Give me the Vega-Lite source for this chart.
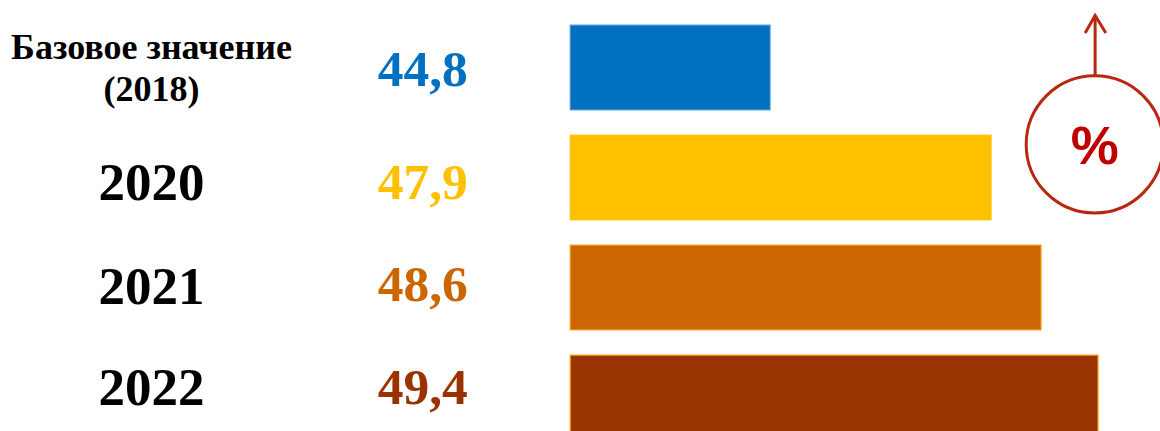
{
  "$schema": "https://vega.github.io/schema/vega-lite/v6.json",
  "width": 1160,
  "height": 431,
  "padding": 0,
  "autosize": "none",
  "background": "white",
  "config": {"view": {"stroke": null}},
  "datasets": {
    "rows": [
      {"period": "Базовое значение (2018)", "value": 44.8, "valueLabel": "44,8"},
      {"period": "2020", "value": 47.9, "valueLabel": "47,9"},
      {"period": "2021", "value": 48.6, "valueLabel": "48,6"},
      {"period": "2022", "value": 49.4, "valueLabel": "49,4"}
    ],
    "arrow": [
      {"part": "shaft", "step": 1, "u": 49.36, "v": 17.4},
      {"part": "shaft", "step": 2, "u": 49.36, "v": 3.6},
      {"part": "head", "step": 1, "u": 49.22, "v": 7.66},
      {"part": "head", "step": 2, "u": 49.36, "v": 3.6},
      {"part": "head", "step": 3, "u": 49.51, "v": 7.66}
    ],
    "badge": [{"u": 49.355, "v": 33.5, "symbol": "%", "v2": 34.3}]
  },
  "layer": [
    {
      "data": {"name": "rows"},
      "mark": {"type": "bar", "strokeWidth": 1.5, "strokeOpacity": 0.8},
      "encoding": {
        "y": {
          "field": "period", "type": "nominal",
          "scale": {"domain": ["Базовое значение (2018)", "2020", "2021", "2022"], "range": [12.5, 452.5], "paddingInner": 0.23, "paddingOuter": 0.115},
          "axis": {
            "title": null, "orient": "left", "offset": -151, "domain": false, "ticks": false, "grid": false, "labelPadding": 0,
            "labelAlign": "center", "labelBaseline": "middle", "labelColor": "#000000", "labelFont": "Liberation Serif", "labelFontWeight": "bold",
            "labelLimit": 0, "labelOverlap": false, "labelLineHeight": 42,
            "labelExpr": "datum.value == 'Базовое значение (2018)' ? ['Базовое значение', '(2018)'] : datum.value",
            "labelFontSize": {"expr": "datum.value == 'Базовое значение (2018)' ? 36 : 53"},
            "labelOffset": {"expr": "datum.value == '2020' ? 6 : datum.value == '2022' ? -9 : datum.value == '2021' ? 0 : -20"}
          }
        },
        "x": {"field": "value", "type": "quantitative", "scale": {"domain": [34.0, 50.27], "nice": false, "zero": false}, "axis": null},
        "x2": {"datum": 42},
        "color": {"field": "period", "type": "nominal", "legend": null, "scale": {"domain": ["Базовое значение (2018)", "2020", "2021", "2022"], "range": ["#0070C0", "#FFC000", "#CC6600", "#993300"]}},
        "stroke": {"field": "period", "type": "nominal", "legend": null, "scale": {"domain": ["Базовое значение (2018)", "2020", "2021", "2022"], "range": ["#3B8FD0", "#FFC000", "#F59200", "#F59200"]}}
      }
    },
    {
      "data": {"name": "rows"},
      "mark": {"type": "text", "font": "Liberation Serif", "fontWeight": "bold", "fontSize": 51.5, "align": "center", "baseline": "middle",
        "dy": {"expr": "datum.period == '2020' ? 6 : datum.period == '2022' ? -9 : datum.period == '2021' ? -2 : 3"}},
      "encoding": {
        "y": {
          "field": "period", "type": "nominal", "axis": null,
          "scale": {"domain": ["Базовое значение (2018)", "2020", "2021", "2022"], "range": [12.5, 452.5], "paddingInner": 0.23, "paddingOuter": 0.115}
        },
        "x": {"datum": 39.93},
        "text": {"field": "valueLabel"},
        "color": {"field": "period", "type": "nominal", "legend": null}
      }
    },
    {
      "data": {"name": "arrow"},
      "mark": {"type": "line", "stroke": "#B8280E", "strokeWidth": 3},
      "encoding": {
        "x": {"field": "u", "type": "quantitative"},
        "y": {"field": "v", "type": "quantitative", "scale": {"domain": [0, 100], "reverse": true, "nice": false}, "axis": null},
        "detail": {"field": "part"},
        "order": {"field": "step"}
      }
    },
    {
      "data": {"name": "badge"},
      "mark": {"type": "point", "shape": "circle", "size": 18800, "filled": false, "stroke": "#B8280E", "strokeWidth": 3, "opacity": 1},
      "encoding": {
        "x": {"field": "u", "type": "quantitative"},
        "y": {"field": "v", "type": "quantitative", "scale": {"domain": [0, 100], "reverse": true, "nice": false}, "axis": null}
      }
    },
    {
      "data": {"name": "badge"},
      "mark": {"type": "text", "font": "Liberation Sans", "fontWeight": "bold", "fontSize": 54, "color": "#C00000", "align": "center", "baseline": "middle"},
      "encoding": {
        "x": {"field": "u", "type": "quantitative"},
        "y": {"field": "v2", "type": "quantitative", "scale": {"domain": [0, 100], "reverse": true, "nice": false}, "axis": null},
        "text": {"field": "symbol"}
      }
    }
  ],
  "resolve": {"scale": {"y": "independent"}}
}
